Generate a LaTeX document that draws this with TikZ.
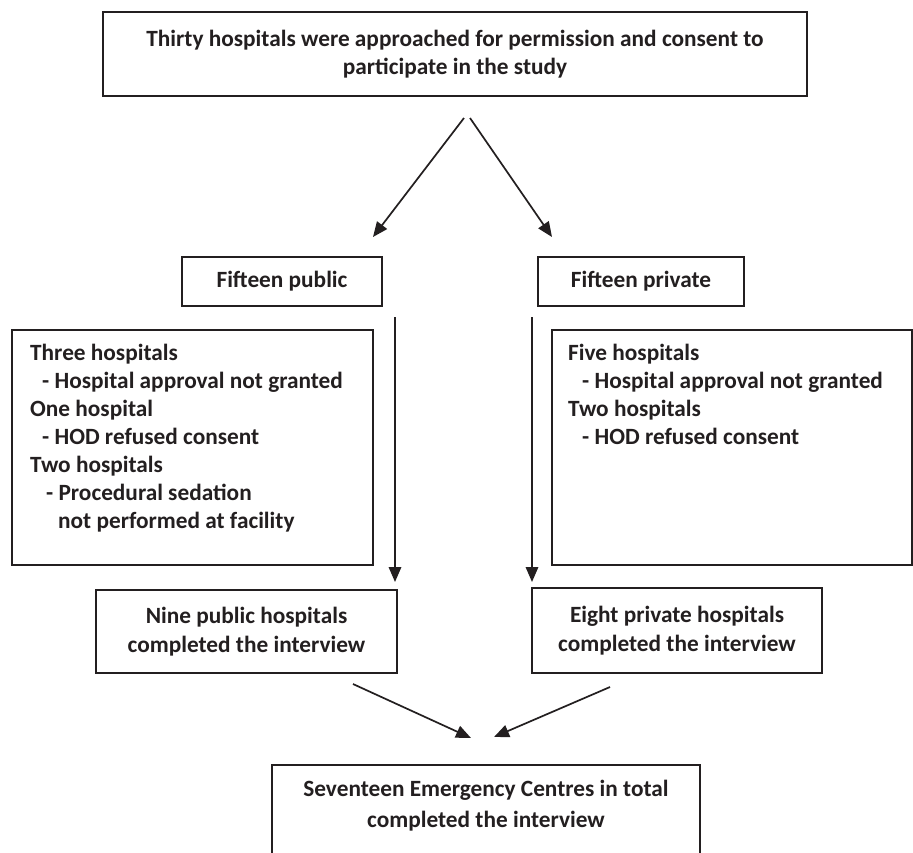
\documentclass[tikz,border=0pt]{standalone}
\usepackage{fontspec}
\setmainfont{Carlito}
\usetikzlibrary{arrows.meta}
\definecolor{ink}{HTML}{231F20}
\begin{document}
\begin{tikzpicture}[x=1pt,y=-1pt,
  box/.style={draw=ink,line width=1.6pt,inner sep=0pt,text=ink,font=\fontsize{23.3}{28.5}\selectfont\bfseries,align=center},
  txt/.style={inner sep=0pt,text=ink,font=\fontsize{23.3}{28}\selectfont\bfseries,align=left,anchor=north west},
  arr/.style={draw=ink,line width=1.7pt,-{Triangle[length=15pt,width=12.5pt]}}]
\clip (0,0) rectangle (913,852);
\fill[white] (0,0) rectangle (913,852);
\node[box,minimum width=704pt,minimum height=84pt] (top) at (455,54)
  {Thirty hospitals were approached for permission and consent to\\participate in the study};
\node[box,minimum width=200pt,minimum height=49pt] (pub) at (282,281.5) {Fifteen public};
\node[box,minimum width=206pt,minimum height=49pt] (pri) at (641,281.5) {Fifteen private};
\node[box,minimum width=361pt,minimum height=235pt] (lbox) at (192.5,447.5) {};
\node[box,minimum width=360pt,minimum height=235pt] (rbox) at (732,447.5) {};
\node[txt] (ltext) at (30,344) {Three hospitals\\
\hspace*{12pt}- Hospital approval not granted\\
One hospital\\
\hspace*{12pt}- HOD refused consent\\
Two hospitals\\
\hspace*{16pt}- Procedural sedation\\
\hspace*{28pt}not performed at facility};
\node[txt] (rtext) at (568,344) {Five hospitals\\
\hspace*{14pt}- Hospital approval not granted\\
Two hospitals\\
\hspace*{14pt}- HOD refused consent};
\node[box,minimum width=301pt,minimum height=83pt] (nine) at (246.5,631.5)
  {Nine public hospitals\\completed the interview};
\node[box,minimum width=290pt,minimum height=85pt] (eight) at (677,630.5)
  {Eight private hospitals\\completed the interview};
\node[box,minimum width=428pt,minimum height=116pt] (tot) at (486,823) {};
\node[inner sep=0pt,text=ink,font=\fontsize{23.3}{31}\selectfont\bfseries,align=center] (totext) at (486,806)
  {Seventeen Emergency Centres in total\\completed the interview};
\coordinate (a1s) at (464,118); \coordinate (a1e) at (373,237);
\coordinate (a2s) at (470,118); \coordinate (a2e) at (552,237);
\coordinate (v1s) at (395,317); \coordinate (v1e) at (395,582);
\coordinate (v2s) at (532,317); \coordinate (v2e) at (532,582);
\coordinate (b1s) at (353,684); \coordinate (b1e) at (471,738);
\coordinate (b2s) at (610,687); \coordinate (b2e) at (494,737);
\draw[arr] (a1s) -- (a1e);
\draw[arr] (a2s) -- (a2e);
\draw[arr] (v1s) -- (v1e);
\draw[arr] (v2s) -- (v2e);
\draw[arr] (b1s) -- (b1e);
\draw[arr] (b2s) -- (b2e);
\end{tikzpicture}
\end{document}
